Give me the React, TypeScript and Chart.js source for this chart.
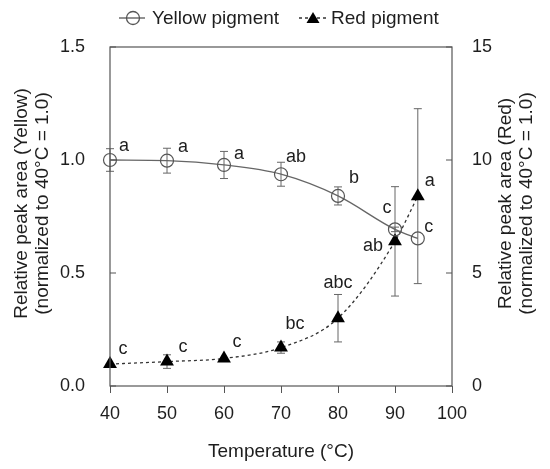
import { useEffect, useRef } from "react";
import { Chart, registerables, Plugin } from "chart.js";

Chart.register(...registerables);

const temperatures = [40, 50, 60, 70, 80, 90, 94];
const yellowMeans = [1.0, 0.997, 0.978, 0.937, 0.841, 0.693, 0.653];
const yellowErr = [0.05, 0.055, 0.06, 0.053, 0.04, 0.01, 0];
const redMeans = [0.97, 1.08, 1.22, 1.7, 3.0, 6.4, 8.4];
const redErr = [0, 0.3, 0, 0.25, 1.05, 2.42, 3.87];
const yellowGroups = ["a", "a", "a", "ab", "b", "c", "c"];
const redGroups = ["c", "c", "c", "bc", "abc", "ab", "a"];
const legendLabels = ["Yellow pigment", "Red pigment"];
const xTitle = "Temperature (°C)";
const leftTitle = ["Relative peak area (Yellow)", "(normalized to 40°C = 1.0)"];
const rightTitle = ["Relative peak area (Red)", "(normalized to 40°C = 1.0)"];

// where each significance letter sits, in px from its point
const yellowNudge = [[14, -14], [16, -14], [15, -11], [15, -17], [16, -18], [-8, -21], [11, -11]];
const redNudge = [[13, -15], [16, -15], [13, -16], [14, -24], [0, -35], [-22, 5], [12, -15]];

const FONT = "'Liberation Sans', Arial, sans-serif";
const INK = "#1e1e1e";
const AXIS = "#555";

const decor: Plugin<"line"> = {
  id: "decor",
  beforeDatasetsDraw(chart) {
    const ctx = chart.ctx;
    const x = chart.scales.x;
    const sets: [number[], number[], string][] = [
      [yellowMeans, yellowErr, "y"],
      [redMeans, redErr, "y1"],
    ];
    ctx.save();
    ctx.strokeStyle = "#666";
    ctx.lineWidth = 1;
    sets.forEach(([means, errs, id]) => {
      const s = chart.scales[id];
      means.forEach((m, i) => {
        if (!errs[i]) return;
        const px = x.getPixelForValue(temperatures[i]);
        const top = s.getPixelForValue(m + errs[i]);
        const bot = s.getPixelForValue(m - errs[i]);
        ctx.beginPath();
        ctx.moveTo(px, top);
        ctx.lineTo(px, bot);
        ctx.moveTo(px - 4, top);
        ctx.lineTo(px + 4, top);
        ctx.moveTo(px - 4, bot);
        ctx.lineTo(px + 4, bot);
        ctx.stroke();
      });
    });
    ctx.restore();
  },
  afterDatasetsDraw(chart) {
    const ctx = chart.ctx;
    ctx.save();
    ctx.font = `18px ${FONT}`;
    ctx.fillStyle = INK;
    ctx.textAlign = "center";
    ctx.textBaseline = "middle";
    const groups: [string[], number[][], number][] = [
      [yellowGroups, yellowNudge, 0],
      [redGroups, redNudge, 1],
    ];
    groups.forEach(([letters, nudge, di]) => {
      chart.getDatasetMeta(di).data.forEach((pt, i) => {
        ctx.fillText(letters[i], pt.x + nudge[i][0], pt.y + nudge[i][1]);
      });
    });
    ctx.restore();
  },
  afterDraw(chart) {
    const ctx = chart.ctx;
    const { left, right, top, bottom } = chart.chartArea;
    ctx.save();
    ctx.strokeStyle = AXIS;
    ctx.lineWidth = 1.2;
    ctx.strokeRect(left, top, right - left, bottom - top);

    // y ticks point inward
    const yl = chart.scales.y;
    const yr = chart.scales.y1;
    ctx.beginPath();
    yl.ticks.forEach((t) => {
      const py = yl.getPixelForValue(t.value);
      ctx.moveTo(left, py);
      ctx.lineTo(left + 6, py);
    });
    yr.ticks.forEach((t) => {
      const py = yr.getPixelForValue(t.value);
      ctx.moveTo(right, py);
      ctx.lineTo(right - 6, py);
    });
    ctx.stroke();

    // y titles, both read bottom to top
    ctx.fillStyle = INK;
    ctx.font = `19px ${FONT}`;
    ctx.textAlign = "center";
    ctx.textBaseline = "middle";
    const cy = (top + bottom) / 2 - 13;
    const titles: [string[], number][] = [
      [leftTitle, 22],
      [rightTitle, 506],
    ];
    titles.forEach(([lines, x0]) => {
      lines.forEach((line, i) => {
        ctx.save();
        ctx.translate(x0 + i * 21, cy);
        ctx.rotate(-Math.PI / 2);
        ctx.fillText(line, 0, 0);
        ctx.restore();
      });
    });

    // legend
    const ly = 18;
    ctx.textAlign = "left";
    ctx.strokeStyle = "#555";
    ctx.lineWidth = 1.3;
    ctx.beginPath();
    ctx.moveTo(119, ly);
    ctx.lineTo(145, ly);
    ctx.stroke();
    ctx.beginPath();
    ctx.arc(133, ly, 6.5, 0, Math.PI * 2);
    ctx.stroke();
    ctx.fillText(legendLabels[0], 152, ly + 1);

    ctx.strokeStyle = "#333";
    ctx.setLineDash([3, 3]);
    ctx.beginPath();
    ctx.moveTo(299, ly);
    ctx.lineTo(327, ly);
    ctx.stroke();
    ctx.setLineDash([]);
    ctx.fillStyle = "#000";
    ctx.beginPath();
    ctx.moveTo(313, ly - 6);
    ctx.lineTo(319.5, ly + 5);
    ctx.lineTo(306.5, ly + 5);
    ctx.closePath();
    ctx.fill();
    ctx.fillStyle = INK;
    ctx.fillText(legendLabels[1], 331, ly + 1);
    ctx.restore();
  },
};

export default function App() {
  const canvasRef = useRef<HTMLCanvasElement>(null);
  const chartRef = useRef<Chart | null>(null);

  useEffect(() => {
    if (!canvasRef.current) return;
    Chart.defaults.font.family = FONT;
    Chart.defaults.color = INK;

    chartRef.current = new Chart(canvasRef.current, {
      type: "line",
      data: {
        datasets: [
          {
            label: legendLabels[0],
            data: temperatures.map((t, i) => ({ x: t, y: yellowMeans[i] })),
            yAxisID: "y",
            clip: false,
            borderColor: "#666",
            borderWidth: 1.3,
            cubicInterpolationMode: "monotone",
            pointStyle: "circle",
            pointRadius: 6.5,
            pointBorderColor: "#555",
            pointBorderWidth: 1.2,
            pointBackgroundColor: "rgba(0,0,0,0)",
          },
          {
            label: legendLabels[1],
            data: temperatures.map((t, i) => ({ x: t, y: redMeans[i] })),
            yAxisID: "y1",
            clip: false,
            borderColor: "#333",
            borderWidth: 1.3,
            borderDash: [3, 3],
            cubicInterpolationMode: "monotone",
            pointStyle: "triangle",
            pointRadius: 8,
            pointBorderColor: "#000",
            pointBorderWidth: 0,
            pointBackgroundColor: "#000",
          },
        ],
      },
      options: {
        animation: false,
        responsive: true,
        maintainAspectRatio: false,
        layout: { padding: { top: 47, left: 0, right: 0, bottom: 0 } },
        plugins: {
          legend: { display: false },
          tooltip: { enabled: false },
        },
        scales: {
          x: {
            type: "linear",
            min: 40,
            max: 100,
            ticks: { stepSize: 10, font: { size: 18 }, color: INK, padding: 10 },
            grid: { drawOnChartArea: false, drawTicks: true, tickLength: 7, color: AXIS },
            border: { display: false },
            title: {
              display: true,
              text: xTitle,
              font: { size: 19 },
              color: INK,
              padding: { top: 0, bottom: 6 },
            },
            afterFit: (s) => {
              s.height = 83;
            },
          },
          y: {
            type: "linear",
            position: "left",
            min: 0,
            max: 1.5,
            ticks: {
              stepSize: 0.5,
              font: { size: 18 },
              color: INK,
              padding: 25,
              callback: (v) => Number(v).toFixed(1),
            },
            grid: { display: false, drawTicks: false },
            border: { display: false },
            afterFit: (s) => {
              s.width = 110;
            },
          },
          y1: {
            type: "linear",
            position: "right",
            min: 0,
            max: 15,
            ticks: { stepSize: 5, font: { size: 18 }, color: INK, padding: 20 },
            grid: { display: false, drawTicks: false },
            border: { display: false },
            afterFit: (s) => {
              s.width = 98;
            },
          },
        },
      },
      plugins: [decor],
    });

    return () => {
      chartRef.current?.destroy();
      chartRef.current = null;
    };
  }, []);

  return (
    <div style={{ position: "fixed", left: 0, top: 0, width: 550, height: 469, background: "#fff" }}>
      <canvas ref={canvasRef} />
    </div>
  );
}
